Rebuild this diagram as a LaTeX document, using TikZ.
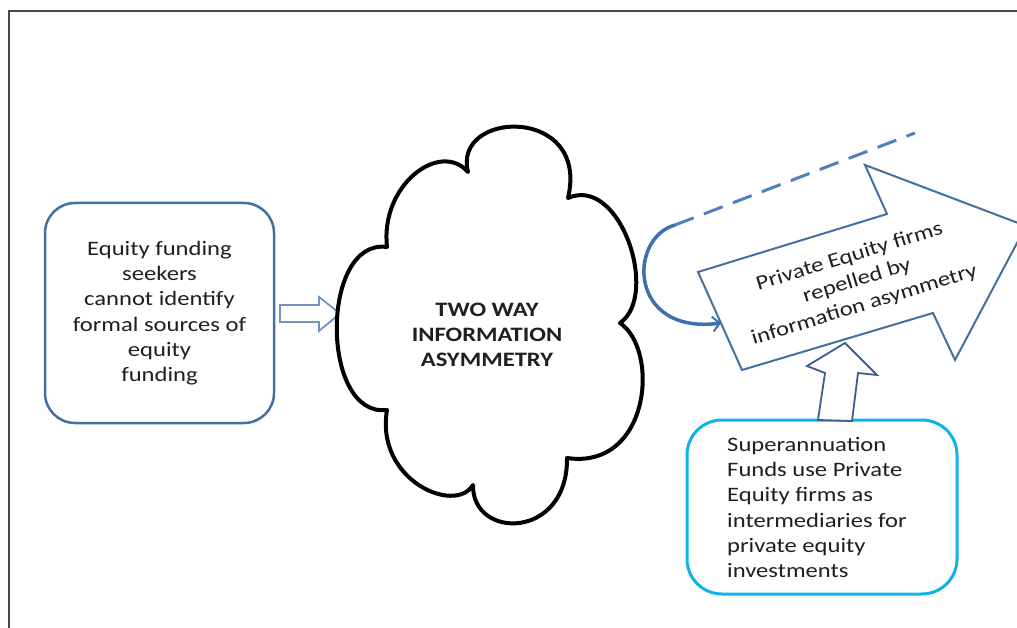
\documentclass[tikz,border=0pt]{standalone}
\usepackage{fontspec}
\setmainfont{Carlito}[FakeStretch=1.2]
\usetikzlibrary{arrows.meta}
\definecolor{frameline}{HTML}{4A4A4A}
\definecolor{boxblue}{HTML}{41719C}
\definecolor{lightarrow}{HTML}{7393C0}
\definecolor{dashblue}{HTML}{4F81BD}
\definecolor{arcblue}{HTML}{3E6FB0}
\definecolor{cyanbox}{HTML}{13B1EC}
\definecolor{darkarrow}{HTML}{3A5F8F}
\definecolor{txt}{HTML}{1F1F1F}
\begin{document}
\begin{tikzpicture}[x=1pt,y=-1pt,
  label text/.style={text=txt,font=\fontsize{20.5}{25.3}\selectfont,inner sep=0pt},
  roundbox/.style={line width=2.5pt,rounded corners=30pt,inner sep=0pt},
  blockarrow/.style={line width=1.8pt,line join=miter,fill=white}
]
\useasboundingbox (0,0) rectangle (1017,628);
\clip (0,0) rectangle (1017,628);
\fill[white] (0,0) rectangle (1017,628);

% outer frame
\draw[frameline,line width=2pt] (8.5,650) -- (8.5,11.5) -- (1040,11.5);

% left box: equity funding seekers
\node[roundbox,draw=boxblue,minimum width=229pt,minimum height=220pt] (seekers) at (159.5,313) {};
\node[label text,align=center] (seekerstext) at (seekers.center)
  {Equity funding\\seekers\\cannot identify\\formal sources of\\equity\\funding};

% block arrow into the cloud
\draw[blockarrow,draw=lightarrow] (280,305) -- (319,305) -- (319,297) -- (340,313.5)
  -- (319,331) -- (319,322) -- (280,322) -- cycle;

% cloud outline
\draw[line width=4pt,line join=round,fill=white]
  (468,172) .. controls (452,110) and (590,105) .. (568,198)
  .. controls (620,175) and (660,295) .. (620,323)
  .. controls (660,350) and (650,470) .. (567,458)
  .. controls (568,540) and (472,540) .. (473,485)
  .. controls (455,515) and (375,480) .. (387,410)
  .. controls (320,418) and (320,238) .. (387,247)
  .. controls (380,185) and (440,140) .. cycle;
\node[label text,align=center,font=\fontsize{20.5}{25.3}\selectfont\bfseries] (asym) at (487,335)
  {TWO WAY\\INFORMATION\\ASYMMETRY};

% big block arrow: private equity firms
\draw[draw=boxblue,line width=2pt,line join=miter,fill=white]
  (698,272) -- (887,214) -- (865,165) -- (1026,226) -- (955,360)
  -- (933,313) -- (742,370) -- cycle;
\node[label text,align=center,rotate=17] (pe) at (857,281)
  {Private Equity firms\\repelled by\\information asymmetry};

% loop back from the dashed line onto the big arrow
\coordinate (loopstart) at (675,225);
\coordinate (dashend) at (915,133);
\coordinate (loopend) at (721,323);
\draw[dashblue,line width=3pt,dash pattern=on 20pt off 11pt] (loopstart) -- (dashend);
\draw[arcblue,line width=3.5pt,-{Straight Barb[length=7pt,width=15pt,line width=2pt]}]
  (loopstart) .. controls (628,238) and (628,335) .. (loopend);

% bottom right box: superannuation funds
\node[roundbox,draw=cyanbox,line width=3pt,rounded corners=35pt,minimum width=270pt,minimum height=174pt] (super) at (822,507) {};
\node[label text,align=left,anchor=west] (supertext) at (727,507.5)
  {Superannuation\\Funds use Private\\Equity firms as\\intermediaries for\\private equity\\investments};

% block arrow up into the big arrow
\draw[blockarrow,draw=darkarrow] (818,420) -- (825,373) -- (807,366) -- (845,343)
  -- (877,375) -- (858,373) -- (852,421) -- cycle;
\end{tikzpicture}
\end{document}
